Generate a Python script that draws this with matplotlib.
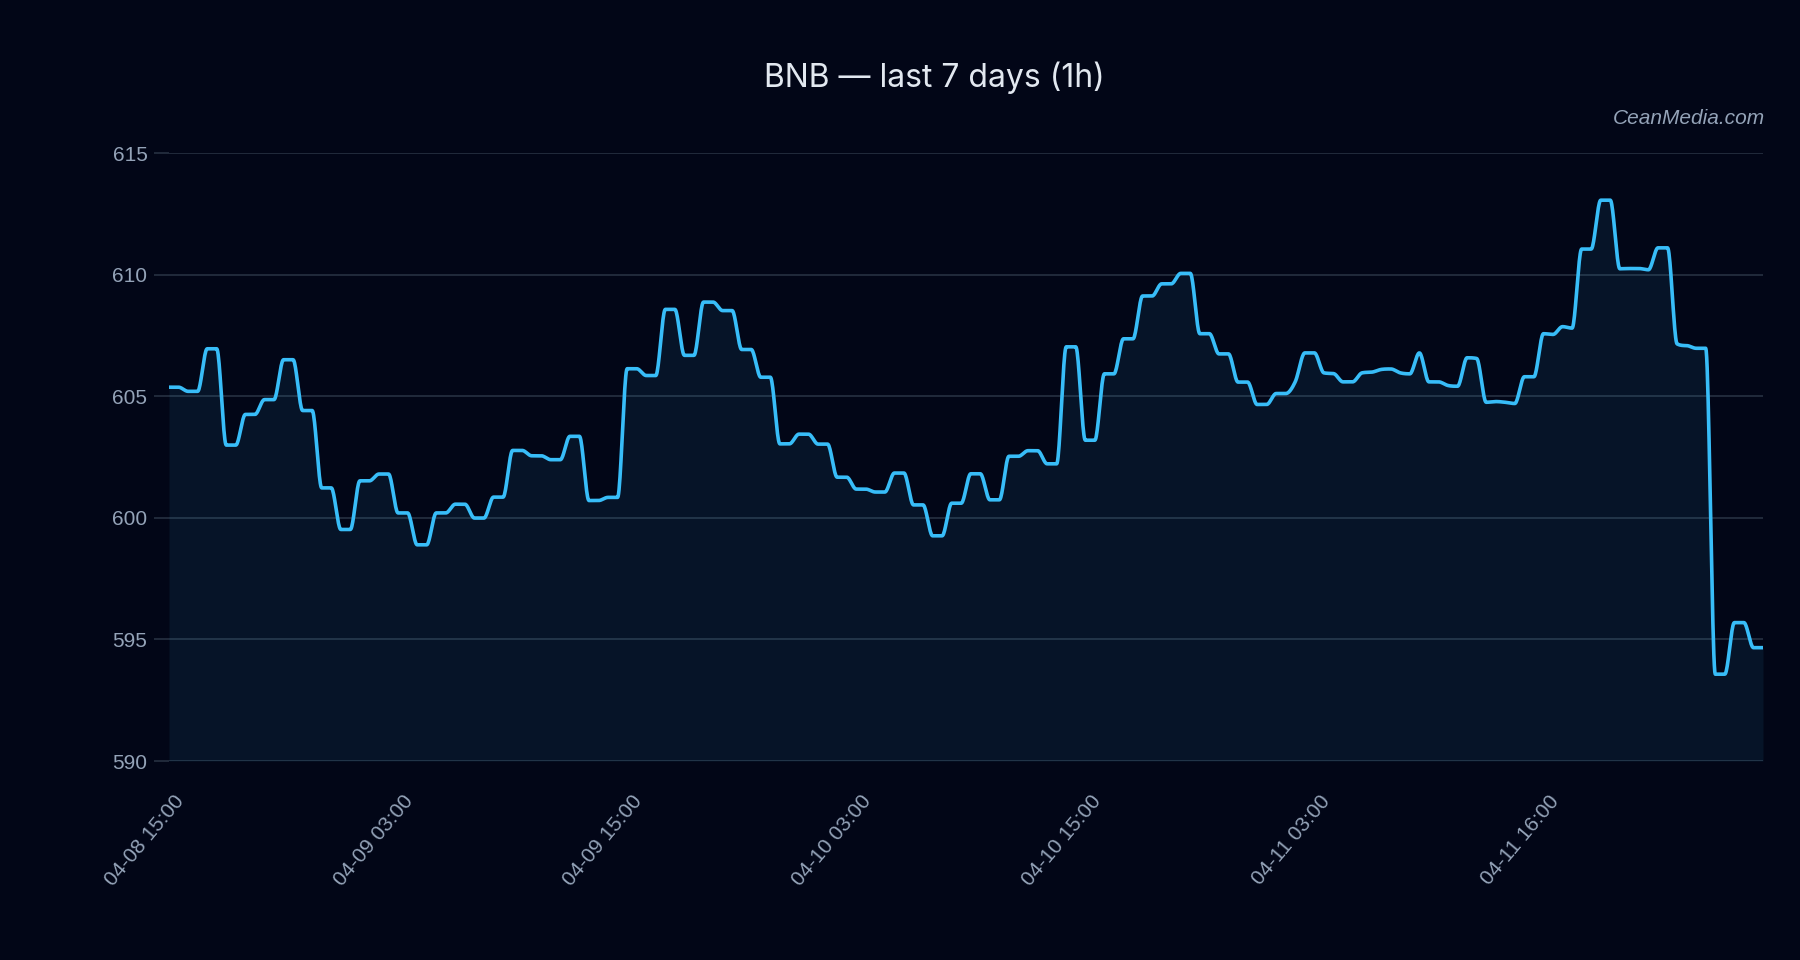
import numpy as np
import matplotlib
matplotlib.use("Agg")
from matplotlib import pyplot as plt
from matplotlib import transforms

# precio BNB, un valor por punto (168 puntos)
precios = [
    605.37, 605.37, 605.20, 605.20, 606.95, 606.95, 602.99, 602.99,
    604.25, 604.25, 604.86, 604.86, 606.50, 606.50, 604.41, 604.41,
    601.23, 601.23, 599.52, 599.52, 601.52, 601.52, 601.80, 601.80,
    600.20, 600.20, 598.89, 598.89, 600.20, 600.20, 600.56, 600.56,
    599.99, 599.99, 600.85, 600.85, 602.77, 602.77, 602.55, 602.55,
    602.39, 602.39, 603.35, 603.35, 600.71, 600.71, 600.84, 600.84,
    606.13, 606.13, 605.85, 605.85, 608.57, 608.57, 606.68, 606.68,
    608.87, 608.87, 608.52, 608.52, 606.92, 606.92, 605.78, 605.78,
    603.04, 603.04, 603.44, 603.44, 603.03, 603.03, 601.67, 601.67,
    601.18, 601.18, 601.06, 601.06, 601.84, 601.84, 600.53, 600.53,
    599.26, 599.26, 600.60, 600.60, 601.81, 601.81, 600.74, 600.74,
    602.53, 602.53, 602.76, 602.76, 602.22, 602.22, 607.03, 607.03,
    603.19, 603.19, 605.92, 605.92, 607.36, 607.36, 609.12, 609.12,
    609.62, 609.62, 610.05, 610.05, 607.57, 607.57, 606.74, 606.74,
    605.58, 605.58, 604.66, 604.66, 605.11, 605.11, 605.60, 606.78,
    606.78, 605.96, 605.93, 605.59, 605.59, 605.96, 605.99, 606.10,
    606.12, 605.96, 605.92, 606.78, 605.59, 605.59, 605.44, 605.41,
    606.58, 606.55, 604.75, 604.78, 604.75, 604.70, 605.80, 605.80,
    607.57, 607.54, 607.86, 607.80, 611.05, 611.05, 613.06, 613.06,
    610.24, 610.25, 610.25, 610.20, 611.10, 611.10, 607.15, 607.08,
    606.97, 606.97, 593.57, 593.57, 595.69, 595.69, 594.66, 594.66,
]
etiquetas_x = ["04-08 15:00", "04-09 03:00", "04-09 15:00", "04-10 03:00",
               "04-10 15:00", "04-11 03:00", "04-11 16:00"]
indices_x = [0, 24, 48, 72, 96, 120, 144]
ticks_y = [590, 595, 600, 605, 610, 615]

fondo = "#020617"
linea = "#38bdf8"
rejilla = "#2a3445"
texto = "#94a3b8"

plt.rcParams["font.family"] = ["Liberation Sans", "DejaVu Sans"]


def curva_monotona(y, pasos=20):
    # interpolacion monotona (igual que chart.js)
    y = np.asarray(y, dtype=float)
    n = len(y)
    d = np.diff(y)
    m = np.zeros(n)
    m[0] = d[0]
    m[-1] = d[-1]
    for k in range(1, n - 1):
        if np.sign(d[k - 1]) != np.sign(d[k]):
            m[k] = 0.0
        else:
            m[k] = (d[k - 1] + d[k]) / 2
    for k in range(n - 1):
        if abs(d[k]) < 1e-9:
            m[k] = m[k + 1] = 0.0
            continue
        a = m[k] / d[k]
        b = m[k + 1] / d[k]
        t2 = a * a + b * b
        if t2 > 9:
            s = 3 / np.sqrt(t2)
            m[k] = a * s * d[k]
            m[k + 1] = b * s * d[k]
    xs, ys = [], []
    t = np.linspace(0, 1, pasos, endpoint=False)
    h00 = 2 * t**3 - 3 * t**2 + 1
    h10 = t**3 - 2 * t**2 + t
    h01 = -2 * t**3 + 3 * t**2
    h11 = t**3 - t**2
    for k in range(n - 1):
        xs.append(k + t)
        ys.append(h00 * y[k] + h10 * m[k] + h01 * y[k + 1] + h11 * m[k + 1])
    xs.append([n - 1])
    ys.append([y[-1]])
    return np.concatenate(xs), np.concatenate(ys)


fig = plt.figure(figsize=(18, 9.6), dpi=100)
fig.patch.set_facecolor(fondo)
ax = fig.add_axes([169 / 1800, 199 / 960, (1763 - 169) / 1800, (761 - 153) / 960])
ax.set_facecolor(fondo)

xs, ys = curva_monotona(precios)
ax.fill_between(xs, ys, 590, color=linea, alpha=0.08, linewidth=0)
ax.plot(xs, ys, color=linea, linewidth=2.6, solid_capstyle="round", zorder=3)

ax.set_xlim(0, len(precios) - 1)
ax.set_ylim(590, 615)
ax.set_yticks(ticks_y)
ax.set_yticklabels([str(v) for v in ticks_y])
ax.grid(axis="y", color=rejilla, linewidth=1.1)
ax.set_axisbelow(True)
for lado in ax.spines.values():
    lado.set_visible(False)
ax.tick_params(axis="y", length=10.5, width=1.1, color=rejilla, pad=5,
               labelsize=15, labelcolor=texto)

ax.set_xticks(indices_x)
ax.set_xticklabels(etiquetas_x, rotation=50, ha="right", va="center",
                   rotation_mode="anchor")
ax.tick_params(axis="x", length=0, pad=0, labelsize=15, labelcolor=texto)
desplaza = transforms.ScaledTranslation(0.12, -0.37, fig.dpi_scale_trans)
for lbl in ax.get_xticklabels():
    lbl.set_transform(lbl.get_transform() + desplaza)

fig.text(934 / 1800, 1 - 78 / 960, "BNB — last 7 days (1h)", ha="center",
         va="center", fontsize=23, color="#e2e8f0", family=["Inter", "DejaVu Sans"])
fig.text(1765 / 1800, 1 - 119 / 960, "CeanMedia.com", ha="right", va="center",
         fontsize=15, style="italic", color=texto)

fig.savefig("out.png", dpi=100, facecolor=fondo)
